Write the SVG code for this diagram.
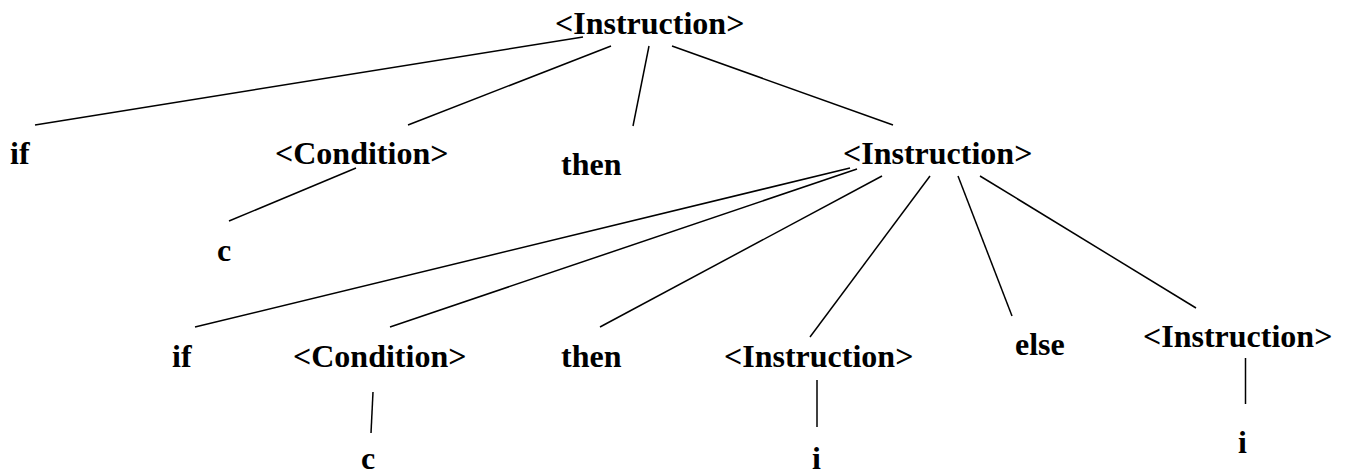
<svg xmlns="http://www.w3.org/2000/svg" width="1347" height="475" viewBox="0 0 1347 475">
<style>
text{font-family:"Liberation Serif","Times New Roman",serif;font-weight:bold;font-size:32px;fill:#000}
.e line{stroke:#000;stroke-width:1.5;stroke-linecap:butt}
</style>
<rect width="1347" height="475" fill="#fff"/>
<g id="connectors" class="e">
<line x1="583" y1="37" x2="35" y2="125"/>
<line x1="611" y1="46" x2="408" y2="125"/>
<line x1="649" y1="46" x2="633" y2="126"/>
<line x1="672" y1="46" x2="893" y2="125"/>
<line x1="356" y1="168" x2="229" y2="221"/>
<line x1="850" y1="168" x2="195" y2="327"/>
<line x1="857" y1="169" x2="390" y2="327"/>
<line x1="882" y1="176" x2="600" y2="327"/>
<line x1="930" y1="176" x2="810" y2="337"/>
<line x1="958" y1="176" x2="1012" y2="316"/>
<line x1="980" y1="176" x2="1196" y2="308"/>
<line x1="373" y1="392" x2="371" y2="433"/>
<line x1="817" y1="380" x2="817" y2="427"/>
<line x1="1245.5" y1="358" x2="1245.5" y2="404"/>
</g>
<g id="n-instr-root"><text x="555" y="34">&lt;Instruction&gt;</text></g>
<g id="n-if1"><text x="10" y="164">if</text></g>
<g id="n-cond1"><text x="275" y="164">&lt;Condition&gt;</text></g>
<g id="n-then1"><text x="561" y="175">then</text></g>
<g id="n-instr2"><text x="843" y="164">&lt;Instruction&gt;</text></g>
<g id="n-c1"><text x="217" y="261">c</text></g>
<g id="n-if2"><text x="172" y="367">if</text></g>
<g id="n-cond2"><text x="293" y="367">&lt;Condition&gt;</text></g>
<g id="n-then2"><text x="561" y="367">then</text></g>
<g id="n-instr3"><text x="724" y="367">&lt;Instruction&gt;</text></g>
<g id="n-else"><text x="1015" y="355">else</text></g>
<g id="n-instr4"><text x="1143" y="347">&lt;Instruction&gt;</text></g>
<g id="n-c2"><text x="361" y="469">c</text></g>
<g id="n-i1"><text x="812" y="469">i</text></g>
<g id="n-i2"><text x="1238" y="453">i</text></g>
</svg>
